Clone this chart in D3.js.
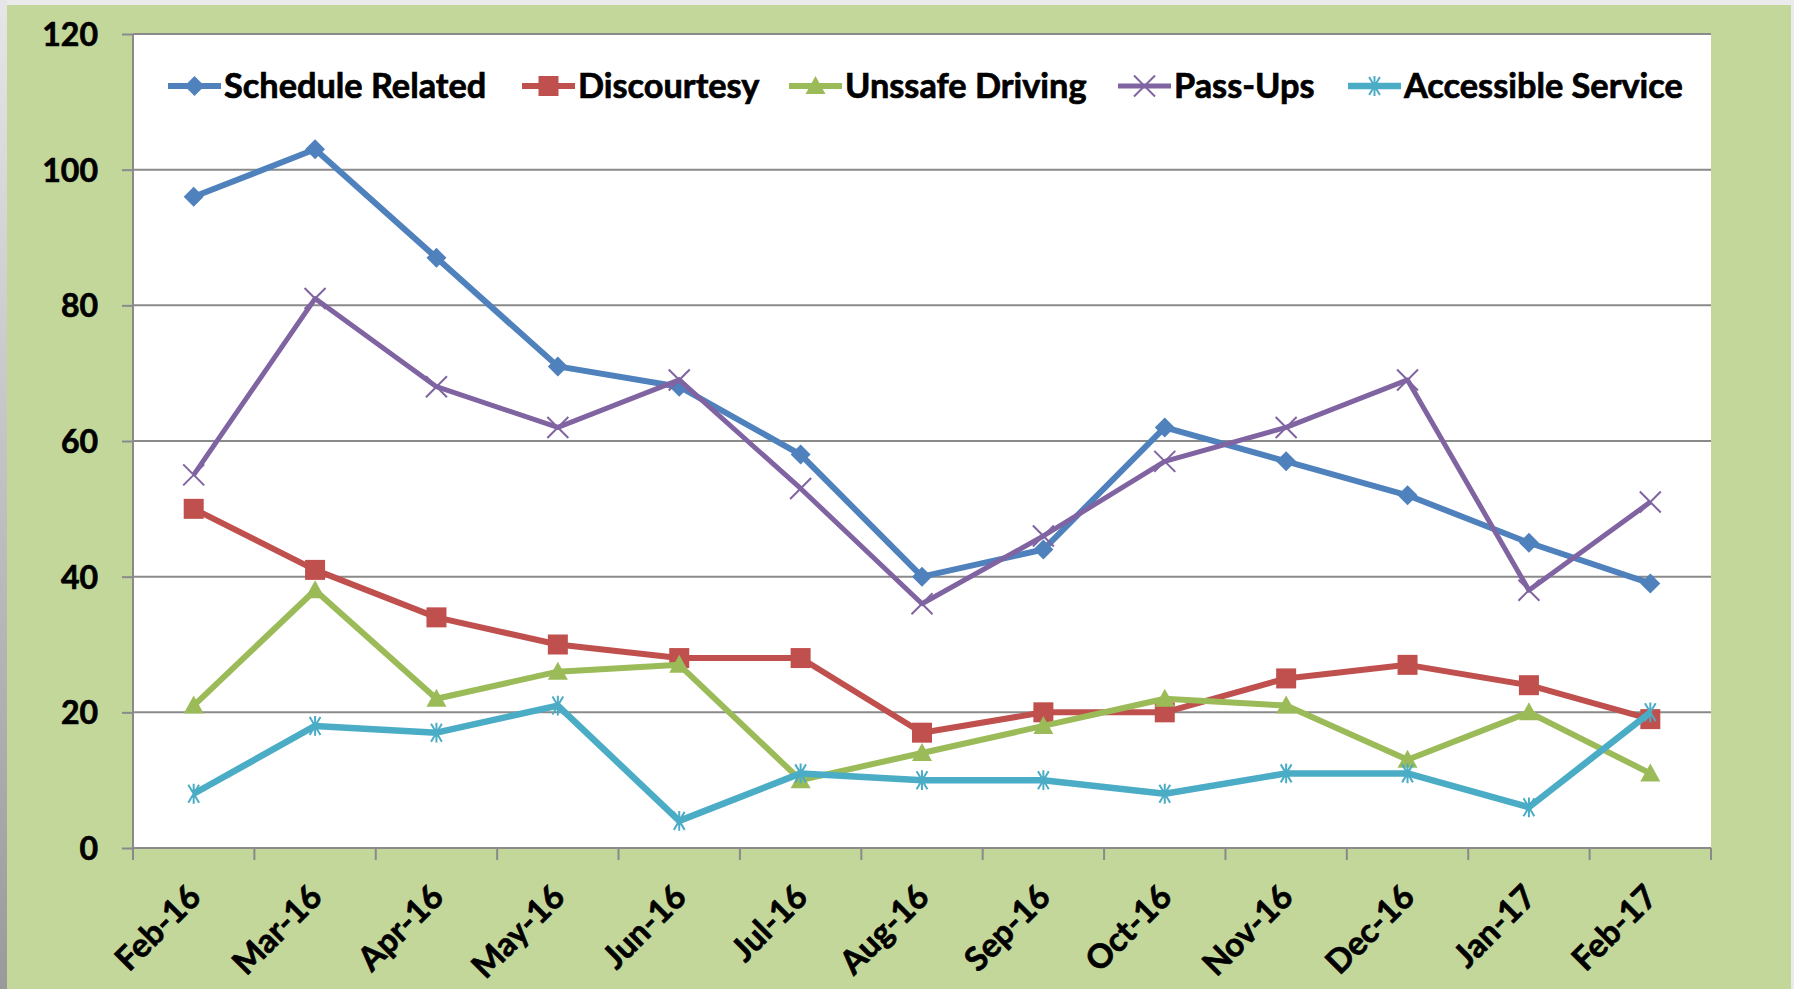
<!DOCTYPE html>
<html>
<head>
<meta charset="utf-8">
<script src="https://cdn.jsdelivr.net/npm/d3@7"></script>
<style>
  html, body { margin: 0; padding: 0; background: #e9e9ea; }
  svg { display: block; }
  text { font-family: Lato, "Open Sans", sans-serif; font-weight: 700; fill: #000; stroke: #000; stroke-width: 0.7px; }
</style>
</head>
<body>
<svg id="chart" width="1794" height="989"></svg>
<script>
// ---------- data ----------
const categories = ["Feb-16","Mar-16","Apr-16","May-16","Jun-16","Jul-16","Aug-16","Sep-16","Oct-16","Nov-16","Dec-16","Jan-17","Feb-17"];
const scheduleRelated   = [96,103,87,71,68,58,40,44,62,57,52,45,39];
const discourtesy       = [50,41,34,30,28,28,17,20,20,25,27,24,19];
const unssafeDriving    = [21,38,22,26,27,10,14,18,22,21,13,20,11];
const passUps           = [55,81,68,62,69,53,36,46,57,62,69,38,51];
const accessibleService = [8,18,17,21,4,11,10,10,8,11,11,6,20];
const seriesNames = ["Schedule Related","Discourtesy","Unssafe Driving","Pass-Ups","Accessible Service"];
const yTicks = [0,20,40,60,80,100,120];

// ---------- styling ----------
const seriesValues = [scheduleRelated, discourtesy, unssafeDriving, passUps, accessibleService];
const colors  = ["#4f81bd","#c0504d","#9bbb59","#8064a2","#4bacc6"];
const markers = ["diamond","square","triangle","x","star"];
const widths  = [6,6,6,5,6.5];

const svg = d3.select("#chart");
const W = 1794, H = 989;
const plot = {left: 133, right: 1711, top: 34, bottom: 848};

// outer background
const defs = svg.append("defs");
const lg = defs.append("linearGradient").attr("id","edge").attr("x1",0).attr("y1",0).attr("x2",0).attr("y2",1);
lg.append("stop").attr("offset","0%").attr("stop-color","#e6e6e8");
lg.append("stop").attr("offset","100%").attr("stop-color","#9a9a9a");
svg.append("rect").attr("x",0).attr("y",0).attr("width",W).attr("height",H).attr("fill","#ebebec");
svg.append("rect").attr("x",0).attr("y",0).attr("width",7).attr("height",H).attr("fill","url(#edge)");
svg.append("rect").attr("x",7).attr("y",5).attr("width",1791-7).attr("height",H-5).attr("fill","#c4d79b");

// scales
const x = d3.scaleBand().domain(categories).range([plot.left, plot.right]).padding(0);
const cx = c => x(c) + x.bandwidth()/2;
const y = d3.scaleLinear().domain([0,120]).range([plot.bottom, plot.top]);

// plot area
svg.append("rect").attr("x",plot.left).attr("y",plot.top)
  .attr("width",plot.right-plot.left).attr("height",plot.bottom-plot.top).attr("fill","#ffffff");

// gridlines
svg.append("g").selectAll("line").data(yTicks.filter(d=>d>0)).join("line")
  .attr("x1",plot.left).attr("x2",plot.right)
  .attr("y1",d=>y(d)).attr("y2",d=>y(d))
  .attr("stroke","#8a8a8a").attr("stroke-width",2);

// y axis
const yAxis = svg.append("g").attr("transform",`translate(${plot.left},0)`)
  .call(d3.axisLeft(y).tickValues(yTicks).tickSize(11).tickPadding(24).tickFormat(d3.format("d")));
yAxis.select(".domain").attr("stroke","#8a8a8a").attr("stroke-width",2).attr("d",`M0,${plot.top}V${plot.bottom}`);
yAxis.selectAll(".tick line").attr("stroke","#8a8a8a").attr("stroke-width",2);
yAxis.selectAll(".tick text").attr("font-size",32).attr("font-family","Lato, sans-serif").attr("font-weight",700)
  .attr("fill","#000").attr("dy","0.36em");

// x axis line and ticks at category boundaries
const boundaries = categories.map(c => x(c)).concat([x(categories[categories.length-1]) + x.bandwidth()]);
svg.append("line").attr("x1",plot.left).attr("x2",plot.right).attr("y1",plot.bottom).attr("y2",plot.bottom)
  .attr("stroke","#8a8a8a").attr("stroke-width",2);
svg.append("g").selectAll("line").data(boundaries).join("line")
  .attr("x1",d=>d).attr("x2",d=>d).attr("y1",plot.bottom).attr("y2",plot.bottom+12)
  .attr("stroke","#8a8a8a").attr("stroke-width",2);

// x labels
svg.append("g").selectAll("text").data(categories).join("text")
  .attr("transform", c => `translate(${cx(c)+9},${plot.bottom+51}) rotate(-45)`)
  .attr("text-anchor","end").attr("font-size",33).text(c=>c);

// marker drawing
function drawMarker(g, type, color, px, py, s) {
  if (type === "diamond") {
    g.append("path").attr("d",`M${px},${py-s}L${px+s},${py}L${px},${py+s}L${px-s},${py}Z`).attr("fill",color);
  } else if (type === "square") {
    g.append("rect").attr("x",px-s).attr("y",py-s).attr("width",2*s).attr("height",2*s).attr("fill",color);
  } else if (type === "triangle") {
    g.append("path").attr("d",`M${px},${py-s}L${px+s},${py+s*0.8}L${px-s},${py+s*0.8}Z`).attr("fill",color);
  } else if (type === "x") {
    const r = s*1.05;
    g.append("path").attr("d",`M${px-r},${py-r}L${px+r},${py+r}M${px-r},${py+r}L${px+r},${py-r}`)
      .attr("stroke",color).attr("stroke-width",2).attr("fill","none");
  } else if (type === "star") {
    const r = s*0.9;
    g.append("path").attr("d",`M${px-r*0.6},${py-r}L${px+r*0.6},${py+r}M${px-r*0.6},${py+r}L${px+r*0.6},${py-r}M${px},${py-r*1.1}L${px},${py+r*1.1}`)
      .attr("stroke",color).attr("stroke-width",2).attr("fill","none");
  }
}

// series
const line = d3.line().x((d,i)=>cx(categories[i])).y(d=>y(d));
seriesValues.forEach((vals, si) => {
  const g = svg.append("g");
  g.append("path").datum(vals).attr("d",line).attr("fill","none")
    .attr("stroke",colors[si]).attr("stroke-width",widths[si]).attr("stroke-linejoin","round");
  vals.forEach((v,i) => drawMarker(g, markers[si], colors[si], cx(categories[i]), y(v), 10));
});

// legend
const legendStarts = [168, 522, 789, 1118, 1348];
const legendY = 86;
seriesNames.forEach((name, si) => {
  const g = svg.append("g");
  const x0 = legendStarts[si];
  g.append("line").attr("x1",x0).attr("x2",x0+53).attr("y1",legendY).attr("y2",legendY)
    .attr("stroke",colors[si]).attr("stroke-width",widths[si]);
  drawMarker(g, markers[si], colors[si], x0+26.5, legendY, 10);
  g.append("text").attr("x",x0+56).attr("y",legendY+12).attr("font-size",34.3).text(name);
});
</script>
</body>
</html>
